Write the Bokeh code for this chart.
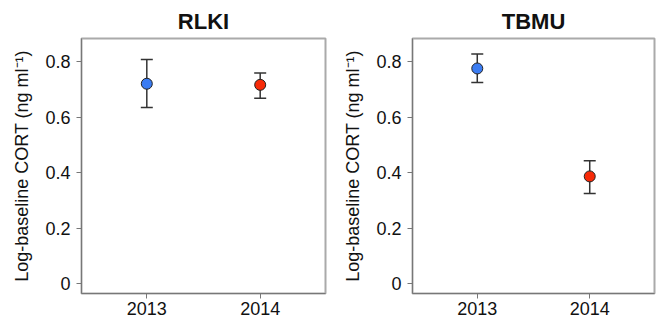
from bokeh.plotting import figure
from bokeh.models import ColumnDataSource, Whisker, TeeHead, FixedTicker, Range1d
from bokeh.layouts import row
from bokeh.embed import file_html
from bokeh.resources import INLINE

years = ["2013", "2014"]
x_pos = [1, 2]
point_colors = ["#3b7cf2", "#f72a08"]

rlki_mean = [0.721, 0.717]
rlki_upper = [0.808, 0.760]
rlki_lower = [0.635, 0.669]

tbmu_mean = [0.776, 0.387]
tbmu_upper = [0.828, 0.443]
tbmu_lower = [0.725, 0.325]

y_ticks = [0, 0.2, 0.4, 0.6, 0.8]
y_tick_labels = ["0", "0.2", "0.4", "0.6", "0.8"]
y_label = "Log-baseline CORT (ng ml\u207b\u00b9)"

FONT = "Liberation Sans"


def make_panel(title, mean, upper, lower, border_left, border_right, width):
    p = figure(width=width, height=321, output_backend="svg", toolbar_location=None,
               x_range=Range1d(0.424, 2.576), y_range=Range1d(-0.035, 0.884),
               min_border_left=border_left, min_border_right=border_right,
               min_border_top=38, min_border_bottom=28, title=title)
    p.title.text_font = FONT
    p.title.text_font_size = "22px"
    p.title.text_font_style = "bold"
    p.title.align = "center"
    p.title.text_color = "#111111"
    p.grid.visible = False
    p.outline_line_color = "#aaaaaa"
    p.outline_line_width = 2
    p.background_fill_color = "white"
    p.border_fill_color = "white"

    src = ColumnDataSource(dict(x=x_pos, mean=mean, upper=upper, lower=lower, color=point_colors))
    w = Whisker(source=src, base="x", upper="upper", lower="lower", dimension="height",
                line_color="#333333", line_width=1.5,
                upper_head=TeeHead(size=12, line_color="#333333", line_width=1.5),
                lower_head=TeeHead(size=12, line_color="#333333", line_width=1.5))
    p.add_layout(w)
    p.scatter("x", "mean", source=src, size=11, fill_color="color", line_color="#222222", line_width=1)

    p.xaxis.ticker = FixedTicker(ticks=x_pos)
    p.xaxis.major_label_overrides = {x: y for x, y in zip(x_pos, years)}
    p.yaxis.ticker = FixedTicker(ticks=y_ticks)
    p.yaxis.major_label_overrides = {t: l for t, l in zip(y_ticks, y_tick_labels)}
    p.yaxis.axis_label = y_label
    for ax in (p.xaxis, p.yaxis):
        ax.minor_tick_line_color = None
        ax.major_tick_in = 0
        ax.major_tick_out = 5
        ax.axis_line_color = "#777777"
        ax.major_tick_line_color = "#777777"
        ax.major_label_text_font = FONT
        ax.major_label_text_font_size = "18px"
        ax.major_label_text_color = "#111111"
    p.xaxis.major_label_standoff = 3
    p.yaxis.major_label_standoff = 6
    p.yaxis.axis_label_text_font = FONT
    p.yaxis.axis_label_text_font_size = "18px"
    p.yaxis.axis_label_text_font_style = "normal"
    p.yaxis.axis_label_text_color = "#111111"
    p.yaxis.axis_label_standoff = 10
    return p


p1 = make_panel("RLKI", rlki_mean, rlki_upper, rlki_lower, 81, 3, 328)
p2 = make_panel("TBMU", tbmu_mean, tbmu_upper, tbmu_lower, 84, 2, 328)

layout = row(p1, p2)

open("out.html", "w").write(file_html(layout, INLINE))
